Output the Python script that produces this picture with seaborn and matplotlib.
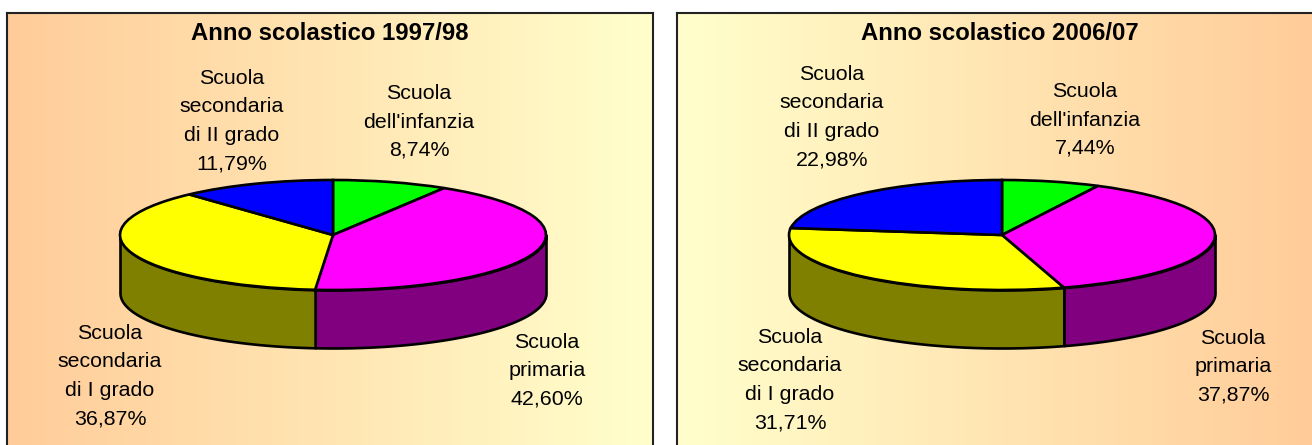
import numpy as np
import matplotlib
matplotlib.use("Agg")
import matplotlib.pyplot as plt
import seaborn as sns

# Data
categories = ["Scuola\ndell'infanzia", "Scuola\nprimaria", "Scuola\nsecondaria\ndi I grado", "Scuola\nsecondaria\ndi II grado"]
titles = ["Anno scolastico 1997/98", "Anno scolastico 2006/07"]
values_9798 = [8.74, 42.60, 36.87, 11.79]
values_0607 = [7.44, 37.87, 31.71, 22.98]

top_colors = ["#00FF00", "#FF00FF", "#FFFF00", "#0000FF"]
side_colors = ["#008000", "#800080", "#808000", "#000080"]

# Layout in pixels of the output image
W, H = 1312, 445
RX, RY, DEPTH = 213, 55, 58

sns.set_theme(style="white")
plt.rcParams["font.family"] = ["Liberation Sans", "DejaVu Sans"]


def pct(v):
    return f"{v:.2f}%".replace(".", ",")


def draw_panel(fig, box, cx, cy, values, title, title_x, label_pos, grad):
    left, right, top, bottom = box
    ax = fig.add_axes([left / W, 1 - bottom / H, (right - left) / W, (bottom - top) / H])

    # pie of radius 1, squashed into an ellipse by the axis limits
    pie_colors = sns.color_palette(top_colors)
    wedges, _ = ax.pie(values, colors=pie_colors, startangle=90, counterclock=False,
                       wedgeprops={"edgecolor": "black", "linewidth": 1.9, "zorder": 3})
    ax.set_aspect("auto")
    ax.set_xlim((left - cx) / RX, (right - cx) / RX)
    ax.set_ylim((cy - bottom) / RY, (cy - top) / RY)
    ax.set_xticks([])
    ax.set_yticks([])

    # background gradient
    cmap = sns.blend_palette(grad, as_cmap=True)
    ax.imshow(np.linspace(0, 1, 256).reshape(1, -1), cmap=cmap, aspect="auto", zorder=0,
              extent=[ax.get_xlim()[0], ax.get_xlim()[1], ax.get_ylim()[0], ax.get_ylim()[1]])
    ax.set_xlim((left - cx) / RX, (right - cx) / RX)
    ax.set_ylim((cy - bottom) / RY, (cy - top) / RY)

    # side wall, only the front half of the rim shows
    ends = np.cumsum(values) * 3.6
    starts = ends - np.array(values) * 3.6
    for a, b, c in zip(starts, ends, side_colors):
        a2, b2 = max(a, 90), min(b, 270)
        if b2 <= a2:
            continue
        t = np.radians(np.linspace(a2, b2, 80))
        x = np.sin(t)
        y = np.cos(t)
        ax.fill_between(x, y, y - DEPTH / RY, facecolor=c, edgecolor="black", linewidth=1.9, zorder=2)

    ax.set_frame_on(True)
    for s in ax.spines.values():
        s.set_visible(True)
        s.set_color("#222222")
        s.set_linewidth(1.5)

    fig.text(title_x / W, 1 - 34 / H, title, ha="center", va="center", fontsize=17.2, fontweight="bold", color="black")
    for cat, v, (px, py) in zip(categories, values, label_pos):
        fig.text(px / W, 1 - py / H, cat + "\n" + pct(v), ha="center", va="center",
                 fontsize=15.4, linespacing=1.63, color="black")


fig = plt.figure(figsize=(W / 100, H / 100), dpi=100)

draw_panel(fig, (7, 653, 13, 447), 333, 235, values_9798, titles[0], 330,
           [(419, 122), (547, 371), (110, 376), (232, 121)], ["#FFCC99", "#FFFFCC"])
draw_panel(fig, (677, 1315, 13, 447), 1002, 235, values_0607, titles[1], 1000,
           [(1085, 120), (1233, 367), (790, 380), (832, 117)], ["#FFFFCC", "#FFCC99"])

plt.savefig("out.png", dpi=100)
